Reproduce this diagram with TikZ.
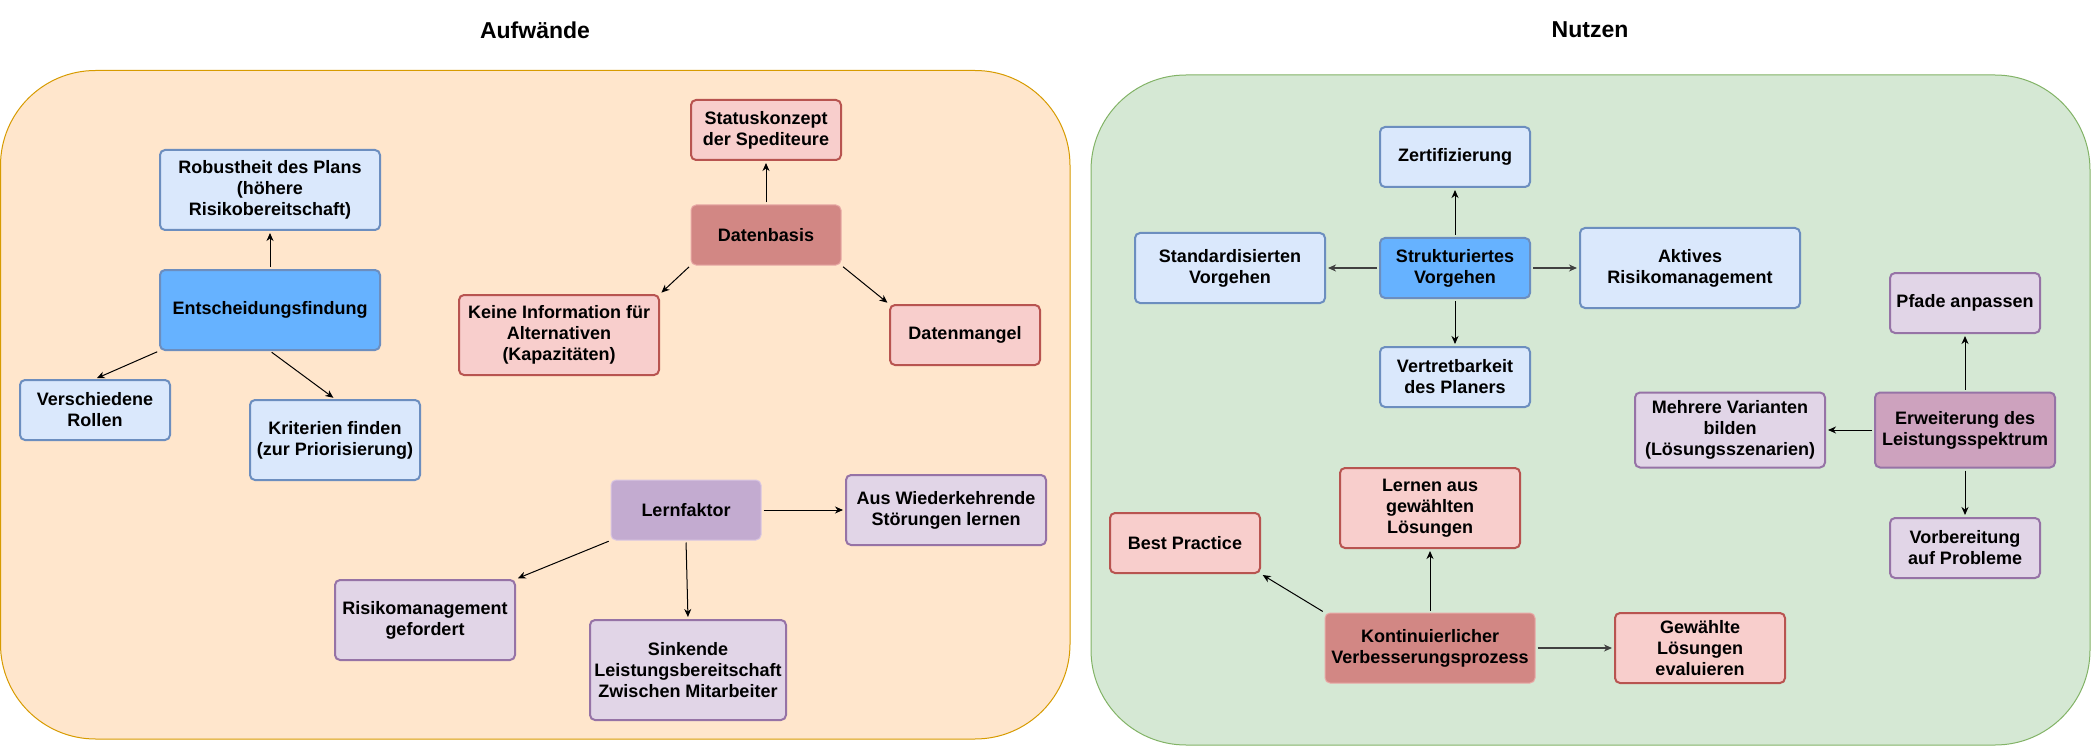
\documentclass[tikz,border=0pt]{standalone}
\usepackage{fontspec}
\setmainfont{Liberation Sans}
\usetikzlibrary{arrows.meta}
\definecolor{lpanelF}{HTML}{FFE6CC}
\definecolor{lpanelS}{HTML}{D79B00}
\definecolor{rpanelF}{HTML}{D5E8D4}
\definecolor{rpanelS}{HTML}{82B366}
\definecolor{blueF}{HTML}{DAE8FC}
\definecolor{blueS}{HTML}{6C8EBF}
\definecolor{blueD}{HTML}{66B2FF}
\definecolor{redF}{HTML}{F8CECC}
\definecolor{redS}{HTML}{B85450}
\definecolor{redD}{HTML}{D28784}
\definecolor{redDS}{HTML}{E8A9A6}
\definecolor{purF}{HTML}{E1D5E7}
\definecolor{purS}{HTML}{9673A6}
\definecolor{purD}{HTML}{C3ABD0}
\definecolor{purDS}{HTML}{D9C6E2}
\definecolor{purM}{HTML}{CDA2BE}
\tikzset{
  box/.style={rectangle, rounded corners=5pt, line width=2pt, align=center,
    inner sep=0pt, font=\fontsize{18}{21}\selectfont\bfseries},
  bluebox/.style={box, draw=blueS, fill=blueF},
  bluedark/.style={box, draw=blueS, fill=blueD},
  redbox/.style={box, draw=redS, fill=redF},
  reddark/.style={box, draw=redDS, fill=redD, line width=1pt},
  purbox/.style={box, draw=purS, fill=purF},
  purdark/.style={box, draw=purDS, fill=purD, line width=1pt},
  purmid/.style={box, draw=purS, fill=purM},
  sz/.style 2 args={minimum width=#1pt, minimum height=#2pt},
  arr/.style={-{Stealth[length=8pt,width=7pt,inset=2.5pt]}, line width=1pt, black,
    shorten >=2pt, shorten <=2pt},
  arrg/.style={arr, draw=black!75, line width=1.4pt},
  panel/.style={rounded corners=95pt, line width=1pt},
  title/.style={font=\fontsize{23}{27}\selectfont\bfseries}
}
\begin{document}
\begin{tikzpicture}[x=1pt,y=-1pt]
\useasboundingbox (0,0) rectangle (2091,746);
% panels
\draw[panel, fill=lpanelF, draw=lpanelS] (0.5,70.5) rectangle (1070,739);
\draw[panel, fill=rpanelF, draw=rpanelS] (1091,75) rectangle (2090,745);
\node[title] (tL) at (535,30) {Aufwände};
\node[title] (tR) at (1590,30) {Nutzen};

% left panel nodes
\node[bluebox, sz={220}{80}] (robust) at (270,190) {Robustheit des Plans\\(höhere\\Risikobereitschaft)};
\node[bluedark, sz={220}{80}] (entsch) at (270,310) {Entscheidungsfindung};
\node[bluebox, sz={150}{60}] (versch) at (95,410) {Verschiedene\\Rollen};
\node[bluebox, sz={170}{80}] (krit) at (335,440) {Kriterien finden\\(zur Priorisierung)};

\node[redbox, sz={150}{60}] (status) at (766,130) {Statuskonzept\\der Spediteure};
\node[reddark, sz={150}{60}] (daten) at (766,235) {Datenbasis};
\node[redbox, sz={200}{80}] (keine) at (559,335) {Keine Information für\\Alternativen\\(Kapazitäten)};
\node[redbox, sz={150}{60}] (mangel) at (965,335) {Datenmangel};

\node[purdark, sz={150}{60}] (lern) at (686,510) {Lernfaktor};
\node[purbox, sz={200}{70}] (aus) at (946,510) {Aus Wiederkehrende\\Störungen lernen};
\node[purbox, sz={180}{80}] (risiko) at (425,620) {Risikomanagement\\gefordert};
\node[purbox, sz={196}{100}] (sinkend) at (688,670) {Sinkende\\Leistungsbereitschaft\\Zwischen Mitarbeiter};

% right panel nodes
\node[bluebox, sz={150}{60}] (zert) at (1455,157) {Zertifizierung};
\node[bluedark, sz={150}{60}] (strukt) at (1455,268) {Strukturiertes\\Vorgehen};
\node[bluebox, sz={190}{70}] (standard) at (1230,268) {Standardisierten\\Vorgehen};
\node[bluebox, sz={220}{80}] (aktiv) at (1690,268) {Aktives\\Risikomanagement};
\node[bluebox, sz={150}{60}] (vertret) at (1455,377) {Vertretbarkeit\\des Planers};

\node[purbox, sz={150}{60}] (pfade) at (1965,303) {Pfade anpassen};
\node[purmid, sz={180}{75}] (erw) at (1965,430) {Erweiterung des\\Leistungsspektrum};
\node[purbox, sz={190}{75}] (mehr) at (1730,430) {Mehrere Varianten\\bilden\\(Lösungsszenarien)};
\node[purbox, sz={150}{60}] (vorb) at (1965,548) {Vorbereitung\\auf Probleme};

\node[redbox, sz={150}{60}] (best) at (1185,543) {Best Practice};
\node[redbox, sz={180}{80}] (lernen) at (1430,508) {Lernen aus\\gewählten\\Lösungen};
\node[reddark, sz={210}{70}] (kont) at (1430,648) {Kontinuierlicher\\Verbesserungsprozess};
\node[redbox, sz={170}{70}] (gew) at (1700,648) {Gewählte\\Lösungen\\evaluieren};

% connectors left
\draw[arr] (entsch.north) -- (robust.south);
\draw[arr] (entsch.south west) -- (versch.north);
\draw[arr] (entsch.south) -- (krit.north);
\draw[arr] (daten.north) -- (status.south);
\draw[arr] (daten.south west) -- (keine.north east);
\draw[arr] (daten.south east) -- (mangel.north west);
\draw[arr] (lern.east) -- (aus.west);
\draw[arr] (lern.south west) -- (risiko.north east);
\draw[arr] (lern.south) -- (sinkend.north);

% connectors right
\draw[arr] (strukt.north) -- (zert.south);
\draw[arrg] (strukt.west) -- (standard.east);
\draw[arrg] (strukt.east) -- (aktiv.west);
\draw[arr] (strukt.south) -- (vertret.north);
\draw[arr] (erw.north) -- (pfade.south);
\draw[arr] (erw.west) -- (mehr.east);
\draw[arr] (erw.south) -- (vorb.north);
\draw[arr] (kont.north) -- (lernen.south);
\draw[arr] (kont.north west) -- (best.south east);
\draw[arrg] (kont.east) -- (gew.west);
\end{tikzpicture}
\end{document}
